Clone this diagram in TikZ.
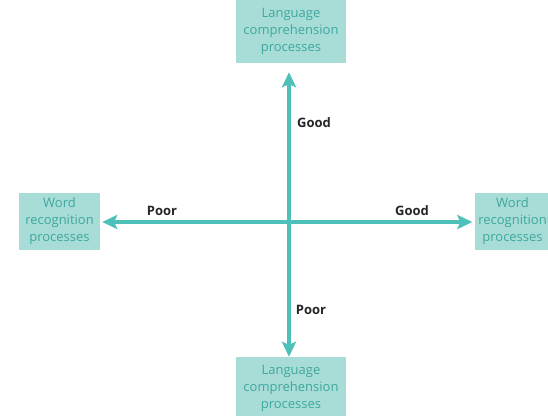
\documentclass[tikz,border=0pt]{standalone}
\usepackage{fontspec}
\setmainfont{Open Sans}
\usetikzlibrary{arrows.meta,positioning}

\definecolor{boxfill}{HTML}{A8DDD7}
\definecolor{boxtext}{HTML}{3DA89F}
\definecolor{axisline}{HTML}{4DC0B9}

\tikzset{
  procbox/.style={rectangle, fill=boxfill, text=boxtext, align=center,
    inner sep=0pt, font=\fontsize{13}{17}\selectfont},
  axisarrow/.style={draw=axisline, line width=3.6pt,
    -{Stealth[length=15pt,width=14pt,inset=3pt]}},
  lbl/.style={font=\fontsize{13}{15}\selectfont\bfseries, text=black!85}
}

\begin{document}
\begin{tikzpicture}[x=1pt,y=-1pt]
    \clip (0,0) rectangle (548,415);
    \fill[white] (0,0) rectangle (548,415);
     \coordinate (ctr) at (289,222);
     % process boxes at the four ends
     \node[procbox, minimum width=110pt, minimum height=63pt] (topbox)
        at (291,31.5) {Language\\comprehension\\processes};
     \node[procbox, minimum width=110pt, minimum height=63pt] (botbox)
        at (291,388.5) {Language\\comprehension\\processes};
     \node[procbox, minimum width=81pt, minimum height=57pt] (leftbox)
        at (59.5,221.5) {Word\\recognition\\processes};
     \node[procbox, minimum width=76pt, minimum height=57pt] (rightbox)
        at (512.5,221.5) {Word\\recognition\\processes};
     % axis labels
     \node[lbl] (goodup)    at (314,123) {Good};
     \node[lbl] (poordown)  at (311,310) {Poor};
     \node[lbl] (poorleft)  at (162,211) {Poor};
     \node[lbl] (goodright) at (412,211) {Good};
     % the two axes, drawn as four arrows out of the centre
     \draw[axisarrow, shorten >=9pt] (ctr) -- (ctr |- topbox.south);
     \draw[axisarrow] (ctr) -- (ctr |- botbox.north);
     \draw[axisarrow, shorten >=2pt] (ctr) -- (ctr -| leftbox.east);
     \draw[axisarrow, shorten >=2pt] (ctr) -- (ctr -| rightbox.west);
    \end{tikzpicture}
\end{document}
